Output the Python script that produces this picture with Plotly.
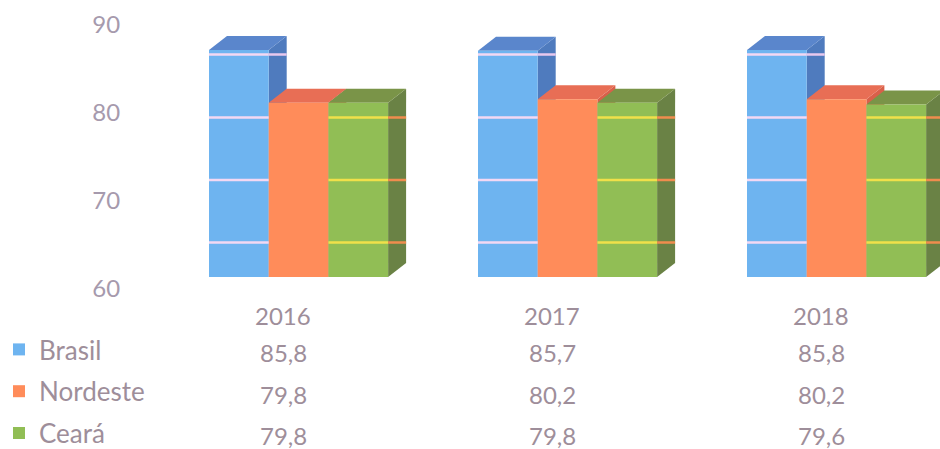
import plotly.graph_objects as go

# ---------------- data ----------------
years = ["2016", "2017", "2018"]
series_names = ["Brasil", "Nordeste", "Ceará"]
brasil = [85.8, 85.7, 85.8]
nordeste = [79.8, 80.2, 80.2]
ceara = [79.8, 79.8, 79.6]
y_tick_values = [60, 70, 80, 90]
y_floor = 60

series_values = [brasil, nordeste, ceara]

# ---------------- style ----------------
front_colors = ["#6EB4F0", "#FF8C5A", "#91BE55"]
top_colors = ["#5A86CC", "#E86E55", "#7A9448"]
side_colors = ["#4F7BBE", "#D9604A", "#6A8245"]
stripe_front_colors = ["#F3D8F3", None, "#F0E04A"]
stripe_side_colors = ["#E8C8EE", None, "#F08C4E"]
text_color = "#9E8E9A"
tick_color = "#A69AAD"
FONT = "Lato"

# ---------------- geometry (pixels) ----------------
W, H = 940, 449
L_MARGIN = 130
CAT0_PX = 283          # pixel centre of first category (table column)
CAT_STEP_PX = 269      # pixels per category
FLOOR_PX = 277         # pixel of bar floor (front face)
TICK_FLOOR_PX = 289    # pixel of "60" tick label (back wall)
PX_PER_UNIT = 8.8
BAR_W_PX = 59.7
FIRST_BAR_OFFSET_PX = -74
DEPTH_DX_PX = 18
DEPTH_DY_PX = 14
STRIPE_PX = [54.5, 117.5, 180, 242.5]
HEADER_ROW_PX = 315
ROW_PX = [352, 394, 435]
LEGEND_LEFT_PX = -1
LEGEND_TOP_PX = 326

x_range = [(L_MARGIN - CAT0_PX) / CAT_STEP_PX, (W - CAT0_PX) / CAT_STEP_PX]
y_range = [y_floor - (H - FLOOR_PX) / PX_PER_UNIT, y_floor + FLOOR_PX / PX_PER_UNIT]
y2_range = [y_floor - (H - TICK_FLOOR_PX) / PX_PER_UNIT, y_floor + TICK_FLOOR_PX / PX_PER_UNIT]

bar_w = BAR_W_PX / CAT_STEP_PX
dx = DEPTH_DX_PX / CAT_STEP_PX
dy = DEPTH_DY_PX / PX_PER_UNIT
stripe_vals = [y_floor + (FLOOR_PX - p) / PX_PER_UNIT for p in STRIPE_PX]

def fmt(v):
    return f"{v:.1f}".replace(".", ",")

fig = go.Figure()
xs = list(range(len(years)))
shapes = []

for k, (name, vals) in enumerate(zip(series_names, series_values)):
    off = (FIRST_BAR_OFFSET_PX + k * BAR_W_PX) / CAT_STEP_PX
    fig.add_trace(go.Bar(
        name=name, x=xs, y=[v - y_floor for v in vals], base=y_floor,
        offset=off, width=bar_w,
        marker=dict(color=front_colors[k], line=dict(width=0)),
        customdata=vals, hovertemplate=name + ": %{customdata}<extra></extra>",
        legendgroup=name,
    ))

for i in xs:
    for k, vals in enumerate(series_values):
        off = (FIRST_BAR_OFFSET_PX + k * BAR_W_PX) / CAT_STEP_PX
        xl = i + off
        xr = xl + bar_w
        v = vals[i]
        shapes.append(dict(type="path", xref="x", yref="y", layer="below",
                           path=f"M {xr},{y_floor} L {xr+dx},{y_floor+dy} L {xr+dx},{v+dy} L {xr},{v} Z",
                           fillcolor=side_colors[k], line=dict(width=0)))
        shapes.append(dict(type="path", xref="x", yref="y", layer="below",
                           path=f"M {xl},{v} L {xr},{v} L {xr+dx},{v+dy} L {xl+dx},{v+dy} Z",
                           fillcolor=top_colors[k], line=dict(width=0)))

# stripes across bar faces
for i in xs:
    for k, vals in enumerate(series_values):
        if stripe_front_colors[k] is None:
            continue
        off = (FIRST_BAR_OFFSET_PX + k * BAR_W_PX) / CAT_STEP_PX
        xl = i + off
        xr = xl + bar_w
        v = vals[i]
        for s in stripe_vals:
            if s >= v - 0.3:
                continue
            shapes.append(dict(type="line", xref="x", yref="y", layer="above",
                               x0=xl, x1=xr, y0=s, y1=s,
                               line=dict(color=stripe_front_colors[k], width=2.5)))
            last = k == len(series_values) - 1
            if last or s > series_values[k + 1][i] + dy:
                shapes.append(dict(type="line", xref="x", yref="y", layer="above",
                                   x0=xr, x1=xr + dx, y0=s, y1=s,
                                   line=dict(color=stripe_side_colors[k], width=2.5)))

# dummy trace to carry the back-wall tick axis
fig.add_trace(go.Scatter(x=[0], y=[y_floor], yaxis="y2", mode="markers",
                         marker=dict(opacity=0), showlegend=False, hoverinfo="skip"))

annotations = []
for i, yr in enumerate(years):
    annotations.append(dict(x=i, y=1 - HEADER_ROW_PX / H, xref="x", yref="paper",
                            text=yr, showarrow=False, xanchor="center", yanchor="middle",
                            font=dict(family=FONT, size=24, color=text_color)))
    for r, vals in enumerate(series_values):
        annotations.append(dict(x=i, y=1 - ROW_PX[r] / H, xref="x", yref="paper",
                                text=fmt(vals[i]), showarrow=False, xanchor="center", yanchor="middle",
                                font=dict(family=FONT, size=24, color=text_color)))

fig.update_layout(
    width=W, height=H,
    margin=dict(l=L_MARGIN, r=0, t=0, b=0, autoexpand=False),
    paper_bgcolor="white", plot_bgcolor="white",
    barmode="overlay",
    shapes=shapes, annotations=annotations,
    xaxis=dict(range=x_range, visible=False, fixedrange=True),
    yaxis=dict(range=y_range, visible=False, fixedrange=True),
    yaxis2=dict(range=y2_range, overlaying="y", side="left", tickvals=y_tick_values,
                showgrid=False, zeroline=False, showline=False,
                ticks="outside", ticklen=4, tickcolor="rgba(0,0,0,0)",
                tickfont=dict(family=FONT, size=24, color=tick_color), fixedrange=True),
    showlegend=True,
    legend=dict(x=(LEGEND_LEFT_PX - L_MARGIN) / (W - L_MARGIN), xanchor="left",
                y=1 - LEGEND_TOP_PX / H, yanchor="top",
                traceorder="grouped", tracegroupgap=5,
                bgcolor="rgba(0,0,0,0)",
                font=dict(family=FONT, size=26, color=text_color)),
)

fig.write_html("out.html", config={"displayModeBar": False},
               post_script="document.body.style.margin='0';document.body.style.overflow='hidden';")
